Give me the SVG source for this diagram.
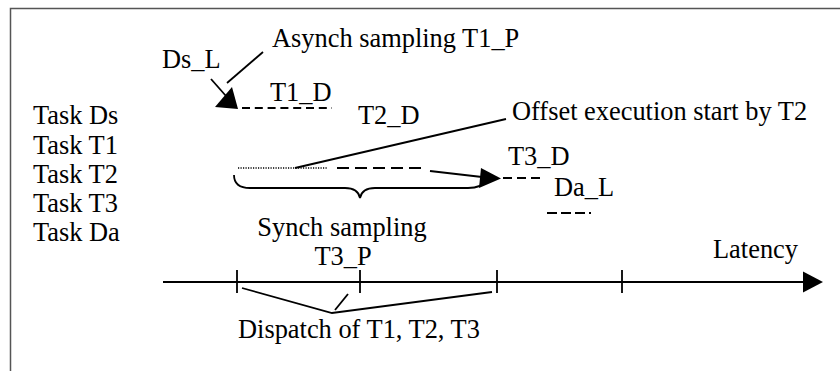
<svg xmlns="http://www.w3.org/2000/svg" width="840" height="371" viewBox="0 0 840 371">
<style>
text{font-family:"Liberation Serif","Times New Roman",serif;font-size:26.4px;fill:#000}
.ln{stroke:#000;stroke-width:1.8;fill:none}
.ds{stroke:#000;stroke-width:1.8;fill:none}
.hd{fill:#000;stroke:none}
</style>
<rect width="840" height="371" fill="#fff"/>
<path d="M10.5,371 V8.5 H840" fill="none" stroke="#555" stroke-width="1.5"/>
<g id="task-labels">
<text x="33" y="124">Task Ds</text>
<text x="33" y="154">Task T1</text>
<text x="33" y="183">Task T2</text>
<text x="33" y="212">Task T3</text>
<text x="33" y="241">Task Da</text>
</g>
<g id="ds-node">
<text x="162" y="68">Ds_L</text>
<path class="ds" d="M242,108 H332" stroke-dasharray="8,4.8"/>
</g>
<g id="t1-node">
<text x="270" y="101">T1_D</text>
</g>
<g id="t2-node">
<text x="358" y="124">T2_D</text>
<path d="M238,168 H328" stroke="#000" stroke-width="1.4" stroke-dasharray="1.2,1.3" fill="none"/>
<path class="ds" d="M337,168 H427" stroke-dasharray="12,6"/>
</g>
<g id="t3-node">
<text x="508" y="165">T3_D</text>
<path class="ds" d="M503,178 H540" stroke-dasharray="9,5"/>
</g>
<g id="da-node">
<text x="554" y="196">Da_L</text>
<path class="ds" d="M547,213 H591" stroke-dasharray="10,4"/>
</g>
<g id="labels">
<text x="272" y="47">Asynch sampling T1_P</text>
<text x="512" y="120">Offset execution start by T2</text>
<text x="342" y="236" text-anchor="middle">Synch sampling</text>
<text x="343" y="265" text-anchor="middle">T3_P</text>
<text x="713" y="258">Latency</text>
<text x="238" y="338">Dispatch of T1, T2, T3</text>
</g>
<g id="connectors">
<path class="ln" d="M263,52 L227,83"/>
<path class="ln" d="M211,79 L226,96"/>
<polygon class="hd" points="238,109 215,107 232,87"/>
<path class="ln" d="M506,119 L295,168"/>
<path class="ln" d="M430,171 L482,177"/>
<polygon class="hd" points="501,178.5 481,168 479,188"/>
<path class="ln" d="M234,175 Q234,188 250,188 H345 Q358,188 360,198 Q362,188 375,188 H468 Q482,188 486,180"/>
<path class="ln" d="M163,282 H805"/>
<polygon class="hd" points="823,282 803,271.5 803,292.5"/>
<path class="ln" d="M237,270 V293 M360,270 V293 M497,270 V293 M622,270 V293"/>
<path class="ln" d="M242,288 L332,313 L492,292"/>
<path class="ln" d="M335,310 L348,294"/>
</g>
</svg>
